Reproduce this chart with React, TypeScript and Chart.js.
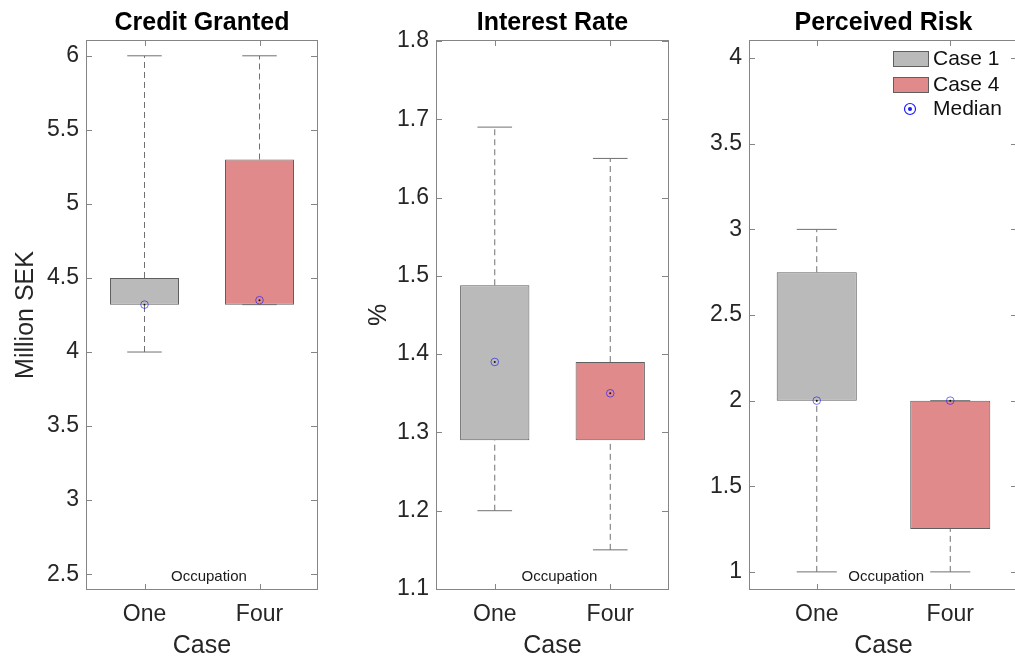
import React, { useEffect, useRef } from "react";
import { Chart, registerables } from "chart.js";

Chart.register(...registerables);

// ---------- data ----------
const CATEGORIES = ["One", "Four"];
const SERIES_LABELS = ["Case 1", "Case 4"];
const MEDIAN_LABEL = "Median";
const PANEL_TITLES = ["Credit Granted", "Interest Rate", "Perceived Risk"];
const Y_TITLES = ["Million SEK", "%", ""];
const X_TITLE = "Case";
const NOTE_TEXT = "Occupation";

// Credit Granted (Million SEK), [One, Four]
const CREDIT_MIN = [4.0, 4.32];
const CREDIT_Q1 = [4.32, 4.32];
const CREDIT_MEDIAN = [4.32, 4.35];
const CREDIT_Q3 = [4.5, 5.3];
const CREDIT_MAX = [6.0, 6.0];

// Interest Rate (%), [One, Four]
const RATE_MIN = [1.2, 1.15];
const RATE_Q1 = [1.29, 1.29];
const RATE_MEDIAN = [1.39, 1.35];
const RATE_Q3 = [1.488, 1.39];
const RATE_MAX = [1.69, 1.65];

// Perceived Risk, [One, Four]
const RISK_MIN = [1, 1];
const RISK_Q1 = [2, 1.25];
const RISK_MEDIAN = [2, 2];
const RISK_Q3 = [2.75, 2];
const RISK_MAX = [3, 2];

// axes
const CREDIT_TICKS = [2.5, 3, 3.5, 4, 4.5, 5, 5.5, 6];
const RATE_TICKS = [1.1, 1.2, 1.3, 1.4, 1.5, 1.6, 1.7, 1.8];
const RISK_TICKS = [1, 1.5, 2, 2.5, 3, 3.5, 4];
const Y_MIN = [2.4, 1.1, 0.9];
const Y_MAX = [6.1, 1.8, 4.1];
const TICK_DECIMALS = [-1, 1, -1];
const NOTE_X = [0.56, 0.56, 0.52];

const MINS = [CREDIT_MIN, RATE_MIN, RISK_MIN];
const Q1S = [CREDIT_Q1, RATE_Q1, RISK_Q1];
const MEDIANS = [CREDIT_MEDIAN, RATE_MEDIAN, RISK_MEDIAN];
const Q3S = [CREDIT_Q3, RATE_Q3, RISK_Q3];
const MAXS = [CREDIT_MAX, RATE_MAX, RISK_MAX];
const TICKS = [CREDIT_TICKS, RATE_TICKS, RISK_TICKS];

// ---------- styling / layout ----------
const FONT = "'Liberation Sans', Arial, Helvetica, sans-serif";
const BOX_FILLS = ["#bababa", "#e08a8c"];
const BOX_EDGE = "#5f5f5f";
const WHISKER = "#707070";
const FRAME = "#858585";
const TEXT = "#262626";

const LAYOUT = [
  { left: 0, width: 330, axisW: 87, padRight: 13, yTitlePad: 11 },
  { left: 340, width: 340, axisW: 97, padRight: 12, yTitlePad: 24 },
  { left: 680, width: 340, axisW: 70, padRight: 3, yTitlePad: 0 },
];
const CANVAS_H = 659;
const X_AXIS_H = 70;

const capHalf = (chart: any) => {
  const x = chart.scales && chart.scales.x;
  if (!x || !x.width) return 17;
  return (x.width / CATEGORIES.length) * 0.15;
};

const framePlugin = {
  id: "frameAndNote",
  afterDraw(chart: any, _args: any, opts: any) {
    const { ctx, chartArea } = chart;
    const xs = chart.scales.x;
    const ys = chart.scales.y;
    const { left, right, top, bottom } = chartArea;
    ctx.save();
    // note text with white background
    ctx.font = `15px ${FONT}`;
    const tx = xs.getPixelForValue(opts.noteX);
    const ty = bottom - 12.5;
    const tw = ctx.measureText(NOTE_TEXT).width;
    ctx.fillStyle = "#ffffff";
    ctx.fillRect(tx - tw / 2 - 3, ty - 9, tw + 6, 18);
    ctx.fillStyle = "#1a1a1a";
    ctx.textAlign = "center";
    ctx.textBaseline = "middle";
    ctx.fillText(NOTE_TEXT, tx, ty);

    // frame
    ctx.strokeStyle = FRAME;
    ctx.lineWidth = 1;
    ctx.strokeRect(left - 0.5, top - 0.5, right - left + 1, bottom - top + 1);
    // inward ticks
    ctx.beginPath();
    ys.ticks.forEach((t: any) => {
      const y = Math.round(ys.getPixelForValue(t.value)) + 0.5;
      ctx.moveTo(left, y);
      ctx.lineTo(left + 5, y);
      ctx.moveTo(right, y);
      ctx.lineTo(right - 6, y);
    });
    CATEGORIES.forEach((_c, i) => {
      const x = Math.round(xs.getPixelForValue(i)) + 0.5;
      ctx.moveTo(x, bottom);
      ctx.lineTo(x, bottom - 5);
      ctx.moveTo(x, top);
      ctx.lineTo(x, top + 5);
    });
    ctx.stroke();

    // legend
    if (opts.legend) {
      const px0 = right - 124;
      const rows = [top + 18, top + 44, top + 68];
      ctx.font = `21px ${FONT}`;
      ctx.textAlign = "left";
      ctx.textBaseline = "middle";
      SERIES_LABELS.forEach((lab, i) => {
        ctx.fillStyle = BOX_FILLS[i];
        ctx.fillRect(px0, rows[i] - 8, 36, 16);
        ctx.strokeStyle = BOX_EDGE;
        ctx.strokeRect(px0 + 0.5, rows[i] - 7.5, 35, 15);
        ctx.fillStyle = "#111";
        ctx.fillText(lab, right - 84, rows[i]);
      });
      const mx = right - 107;
      const my = rows[2];
      ctx.beginPath();
      ctx.strokeStyle = "#1a1aff";
      ctx.lineWidth = 1.2;
      ctx.arc(mx, my, 5.5, 0, Math.PI * 2);
      ctx.stroke();
      ctx.beginPath();
      ctx.fillStyle = "#1a1aff";
      ctx.arc(mx, my, 2, 0, Math.PI * 2);
      ctx.fill();
      ctx.fillStyle = "#111";
      ctx.fillText(MEDIAN_LABEL, right - 84, my);
    }
    ctx.restore();
  },
};

function Panel({ idx }: { idx: number }) {
  const ref = useRef<HTMLCanvasElement | null>(null);
  useEffect(() => {
    if (!ref.current) return;
    const lay = LAYOUT[idx];
    const lo = MINS[idx], q1 = Q1S[idx], md = MEDIANS[idx], q3 = Q3S[idx], hi = MAXS[idx];

    const boxSets = SERIES_LABELS.map((lab, s) => ({
      type: "bar" as const,
      label: lab,
      data: CATEGORIES.map((_c, i) => (i === s ? [q1[i], q3[i]] : null)),
      backgroundColor: BOX_FILLS[s],
      borderColor: BOX_EDGE,
      borderWidth: 1,
      borderSkipped: false,
      grouped: false,
      barPercentage: 0.6,
      categoryPercentage: 1,
      order: 4,
    }));

    const whiskerData: any[] = [];
    CATEGORIES.forEach((c, i) => {
      whiskerData.push({ x: c, y: q3[i] }, { x: c, y: hi[i] }, { x: c, y: null });
      whiskerData.push({ x: c, y: lo[i] }, { x: c, y: q1[i] }, { x: c, y: null });
    });
    const capData: any[] = [];
    CATEGORIES.forEach((c, i) => {
      capData.push({ x: c, y: hi[i] }, { x: c, y: lo[i] });
    });
    const medData = CATEGORIES.map((c, i) => ({ x: c, y: md[i] }));

    const datasets: any[] = [
      ...boxSets,
      {
        type: "line",
        label: "whiskers",
        data: whiskerData,
        borderColor: WHISKER,
        borderWidth: 1,
        borderDash: [6, 4],
        pointRadius: 0,
        spanGaps: false,
        fill: false,
        order: 3,
      },
      {
        type: "line",
        label: "caps",
        data: capData,
        showLine: false,
        pointStyle: "line",
        pointRadius: (ctx: any) => capHalf(ctx.chart),
        pointBorderColor: WHISKER,
        pointBorderWidth: 1,
        order: 2,
      },
      {
        type: "line",
        label: MEDIAN_LABEL,
        data: medData,
        showLine: false,
        pointStyle: "circle",
        pointRadius: 3.8,
        pointBorderWidth: 1,
        pointBorderColor: "rgba(20,20,255,0.6)",
        pointBackgroundColor: "rgba(0,0,0,0)",
        order: 1,
      },
      {
        type: "line",
        label: "median-dot",
        data: medData,
        showLine: false,
        pointStyle: "circle",
        pointRadius: 1,
        pointBorderWidth: 0,
        pointBackgroundColor: "#111",
        order: 0,
      },
    ];

    const ticks = TICKS[idx];
    const dec = TICK_DECIMALS[idx];
    const chart = new Chart(ref.current, {
      type: "bar",
      data: { labels: CATEGORIES, datasets },
      plugins: [framePlugin],
      options: {
        responsive: false,
        animation: false,
        events: [],
        layout: { autoPadding: false, padding: { left: 0, right: lay.padRight, top: 0, bottom: 0 } },
        plugins: {
          legend: { display: false },
          tooltip: { enabled: false },
          title: {
            display: true,
            text: PANEL_TITLES[idx],
            fullSize: false,
            color: "#000",
            font: { family: FONT, size: 25, weight: "bold" },
            padding: { top: 8.5, bottom: 2.5 },
          },
          frameAndNote: { noteX: NOTE_X[idx], legend: idx === 2 },
        } as any,
        scales: {
          x: {
            type: "category",
            offset: true,
            grid: { display: false, drawTicks: false },
            border: { display: false },
            ticks: { font: { family: FONT, size: 23 }, color: TEXT, padding: 12 },
            title: {
              display: true,
              text: X_TITLE,
              color: TEXT,
              font: { family: FONT, size: 25 },
              padding: { top: 0, bottom: -2 },
            },
            afterFit: (s: any) => {
              s.height = X_AXIS_H;
              s.paddingLeft = 0;
              s.paddingRight = 0;
            },
          },
          y: {
            type: "linear",
            min: Y_MIN[idx],
            max: Y_MAX[idx],
            grid: { display: false, drawTicks: false },
            border: { display: false },
            afterBuildTicks: (s: any) => {
              s.ticks = ticks.map((v) => ({ value: v }));
            },
            ticks: {
              font: { family: FONT, size: 23 },
              color: TEXT,
              padding: 8,
              callback: (v: any) => (dec >= 0 ? Number(v).toFixed(dec) : String(Number(v))),
            },
            title: {
              display: Y_TITLES[idx] !== "",
              text: Y_TITLES[idx],
              color: TEXT,
              font: { family: FONT, size: 25 },
              padding: { top: lay.yTitlePad, bottom: 0 },
            },
            afterFit: (s: any) => {
              s.width = lay.axisW;
            },
          },
        },
      } as any,
    });
    return () => chart.destroy();
  }, [idx]);

  const lay = LAYOUT[idx];
  return (
    <canvas
      ref={ref}
      width={lay.width}
      height={CANVAS_H}
      style={{ position: "absolute", left: lay.left, top: 0, width: lay.width, height: CANVAS_H }}
    />
  );
}

export default function App() {
  return (
    <div
      style={{
        position: "fixed",
        left: 0,
        top: 0,
        width: 1015,
        height: 659,
        overflow: "hidden",
        background: "#fff",
      }}
    >
      {PANEL_TITLES.map((_t, i) => (
        <Panel key={i} idx={i} />
      ))}
    </div>
  );
}
